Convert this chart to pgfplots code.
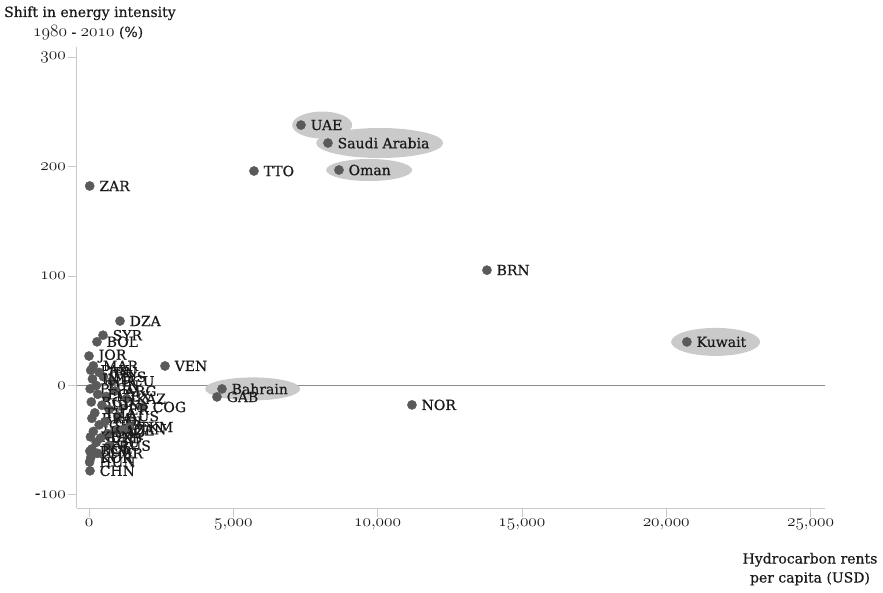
\documentclass[border=0pt]{standalone}
\usepackage{pgfplots}
\pgfplotsset{compat=1.18}
\usepackage{pgfplotstable}
\usepackage{fontspec}
\setmainfont{DejaVu Serif}[FakeBold=0.4]
\newfontfamily\lblfont{DejaVu Serif}[FakeBold=0.6]
\usetikzlibrary{shapes.geometric}
\newcommand\osf[1]{{\fontencoding{OML}\fontfamily{cmm}\fontseries{m}\fontshape{it}\selectfont #1}}
\definecolor{dot}{HTML}{5A5A5A}
\definecolor{hl}{HTML}{CACACA}
\definecolor{axisgray}{HTML}{C8C8C8}
\definecolor{zerogray}{HTML}{8C8C8C}
\definecolor{txt}{HTML}{1A1A1A}

% highlighted countries: x, y, ellipse width, ellipse height, left offset of ellipse
\pgfplotstableread[col sep=comma]{
x,y,ew,eh,el
7344,238.2,60,27,9
8279,221.8,127,30,12
8660,197.1,86,22,13
20715,39.9,89,28,16
4607,-3.1,95,23,17
}\hltable

\pgfplotstableread[col sep=comma]{
x,y,label
7344,238.2,UAE
8279,221.8,Saudi Arabia
8660,197.1,Oman
5716,196.2,TTO
24,182.5,ZAR
13787,105.5,BRN
20715,39.9,Kuwait
11189,-17.7,NOR
4607,-3.1,Bahrain
4434,-10.4,GAB
2633,17.9,VEN
1871,-19.6,COG
1074,59,DZA
485,46,SYR
277,40,BOL
0,27,JOR
150,18,MAR
60,14,PAK
350,12,IRN
500,8,MYS
800,4,ECU
120,6,IND
250,0,TUN
40,-3,PHL
900,-5,ARG
600,-10,MEX
300,-8,EGY
1300,-12,KAZ
80,-15,BGD
450,-18,IDN
700,-22,PER
200,-25,THA
1000,-28,AUS
100,-30,BRA
550,-33,COL
350,-36,GBR
1400,-38,TKM
900,-41,AZE
150,-42,USA
650,-44,IRQ
1200,-40,CAN
50,-47,KEN
400,-48,UZB
250,-52,ROU
700,-55,RUS
100,-58,POL
30,-60,BGR
300,-62,CMR
60,-66,KOR
20,-70,HUN
35,-78,CHN
}\alltable

\begin{document}
\begin{tikzpicture}
\begin{axis}[
  scale only axis, width=748pt, height=461pt,
  xmin=-416, xmax=25500, ymin=-112, ymax=309.6,
  axis x line*=bottom, axis y line*=left,
  axis line style={draw=axisgray, line width=1pt},
  tick style={draw=axisgray, line width=0.8pt},
  tick align=outside, major tick length=9pt,
  scaled x ticks=false, scaled y ticks=false,
  xtick={0,5000,10000,15000,20000,25000},
  xticklabels={\osf{0},\osf{5;000},\osf{10;000},\osf{15;000},\osf{20;000},\osf{25;000}},
  ytick={-100,0,100,200,300},
  yticklabels={-\osf{100},\osf{0},\osf{100},\osf{200},\osf{300}},
  ticklabel style={font=\fontsize{16}{18}\selectfont, text=txt, inner sep=2pt},
  clip=false,
  xlabel={\begin{tabular}{@{}c@{}}Hydrocarbon rents\\per capita (USD)\end{tabular}},
  xlabel style={at={(rel axis cs:1,0)}, anchor=north, xshift=-15pt, yshift=-42pt,
    inner sep=0pt, font=\fontsize{14}{19}\selectfont, text=txt},
]
% grey ellipses behind highlighted countries
\addplot[draw=none, mark=none,
  visualization depends on={\thisrow{ew} \as \ew},
  visualization depends on={\thisrow{eh} \as \eh},
  visualization depends on={\thisrow{el} \as \el},
  nodes near coords={\phantom{x}},
  nodes near coords style={shape=ellipse, fill=hl, draw=none, inner sep=0pt,
    minimum width=\ew pt, minimum height=\eh pt, anchor=west, xshift=-\el pt, font=\tiny}]
  table[x=x, y=y] {\hltable};
% zero line
\addplot[zerogray, line width=1.4pt, mark=none] coordinates {(-416,0) (25500,0)};
% points with labels
\addplot[only marks, mark=*, mark size=4.6pt, mark options={fill=dot, draw=dot},
  point meta=explicit symbolic,
  nodes near coords,
  nodes near coords style={anchor=west, xshift=9.5pt, inner sep=0pt, text=txt,
    font=\lblfont\fontsize{14}{16}\selectfont}]
  table[x=x, y=y, meta=label] {\alltable};
% y-axis title, two lines
\node[anchor=base west, inner sep=0pt, text=txt, font=\fontsize{14}{17}\selectfont,
  xshift=-73pt, yshift=30pt] at (rel axis cs:0,1) {Shift in energy intensity};
\node[anchor=base west, inner sep=0pt, text=txt, font=\fontsize{14}{17}\selectfont,
  xshift=-44pt, yshift=10pt] at (rel axis cs:0,1)
  {{\fontsize{17}{20}\selectfont\osf{1980}} - {\fontsize{17}{20}\selectfont\osf{2010}} (\%)};
\path (rel axis cs:0,0) ++(-77pt,-84pt);
\path (rel axis cs:1,1) ++(58pt,47pt);
\end{axis}
\end{tikzpicture}
\end{document}
